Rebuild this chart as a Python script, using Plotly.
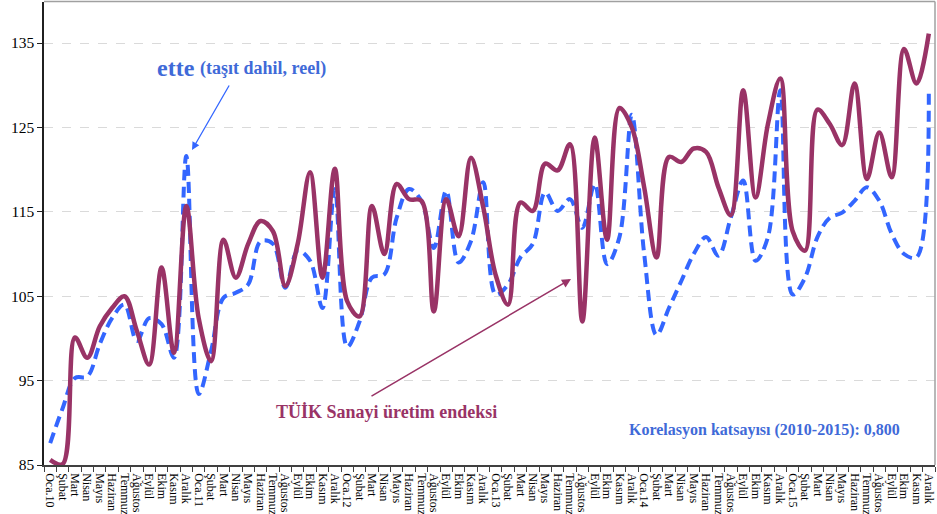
import plotly.graph_objects as go

months = ["Oca", "Şubat", "Mart", "Nisan", "Mayıs", "Haziran", "Temmuz",
          "Ağustos", "Eylül", "Ekim", "Kasım", "Aralık"]
years = ["10", "11", "12", "13", "14", "15"]
tick_labels = []
for y in years:
    for j, m in enumerate(months):
        tick_labels.append(f"Oca.{y}" if j == 0 else m)

tuik = [85.6, 85.1, 100.1, 97.7, 101.4, 103.6, 105.0, 100.9, 96.9, 108.4, 98.3, 115.7,
        102.4, 97.3, 111.7, 107.2, 111.2, 113.9, 112.7, 106.2, 111.2, 119.7, 107.2, 120.1,
        104.4, 102.6, 115.7, 110.0, 118.3, 116.5, 116.3, 103.2, 116.5, 112.1, 121.4, 115.5,
        107.5, 104.0, 116.1, 115.1, 120.7, 119.9, 123.0, 102.0, 123.8, 111.7, 127.3, 125.0,
        117.9, 109.6, 121.5, 120.9, 122.5, 122.1, 117.9, 114.6, 129.4, 116.7, 125.4, 130.8,
        112.7, 110.4, 127.1, 125.4, 122.9, 130.2, 118.9, 124.4, 119.1, 134.3, 130.2, 136.1]

ette = [87.6, 91.7, 95.3, 95.5, 99.3, 102.4, 104.0, 99.7, 102.4, 101.7, 97.7, 121.6,
        93.4, 98.5, 104.8, 105.4, 106.4, 111.5, 111.2, 106.0, 110.4, 109.2, 103.6, 117.7,
        99.0, 102.0, 107.2, 107.6, 114.3, 117.7, 116.3, 110.7, 117.5, 109.0, 111.5, 118.5,
        105.2, 106.4, 109.6, 111.2, 117.3, 115.1, 116.5, 113.1, 118.3, 108.8, 112.0, 126.5,
        110.0, 100.4, 103.6, 106.8, 110.0, 112.0, 109.8, 114.3, 118.7, 109.2, 112.0, 129.4,
        105.2, 107.2, 112.0, 114.3, 114.9, 116.3, 117.9, 116.3, 112.4, 110.0, 109.6, 129.4]

y_ticks = [85, 95, 105, 115, 125, 135]

x_idx = list(range(len(tick_labels)))

W, H = 937, 514
L, R, T, B = 44, 935, 2, 465

def px(xp):
    return (xp - L) / (R - L)

def py(yp):
    return (B - yp) / (B - T)

SERIF = "Liberation Serif, Times New Roman, serif"
MAROON = "#993366"
BLUE_LINE = "#3366FF"
BLUE_TEXT = "#3F6AD8"

fig = go.Figure()
fig.add_trace(go.Scatter(
    x=x_idx, y=ette, mode="lines", name="ette",
    line=dict(color=BLUE_LINE, width=4, dash="11px,6px", shape="spline", smoothing=1.0),
))
fig.add_trace(go.Scatter(
    x=x_idx, y=tuik, mode="lines", name="TÜİK",
    line=dict(color=MAROON, width=4.5, shape="spline", smoothing=1.0),
))

fig.update_layout(
    width=W, height=H,
    margin=dict(l=L, r=W - R, t=T, b=H - B, pad=0),
    paper_bgcolor="white", plot_bgcolor="white",
    showlegend=False,
    font=dict(family=SERIF, color="black"),
)

fig.update_xaxes(
    range=[-0.5, len(tick_labels) - 0.5],
    tickmode="array", tickvals=x_idx, ticktext=tick_labels,
    tickangle=90, tickfont=dict(family=SERIF, size=12, color="black"),
    ticks="", showgrid=False, zeroline=False,
    showline=True, linecolor="#404040", linewidth=1.5,
    minor=dict(tick0=-0.5, dtick=1, ticks="outside", ticklen=5,
               tickcolor="#404040", tickwidth=1, showgrid=False),
    automargin=False, ticklabelstandoff=4,
)
fig.update_yaxes(
    range=[85, 85 + (B - T) / 8.44],
    tickmode="array", tickvals=y_ticks,
    tickfont=dict(family=SERIF, size=15.5, color="black"),
    ticks="outside", ticklen=5, tickcolor="#202020",
    showgrid=True, gridcolor="#DADADA", griddash="dash", gridwidth=1,
    zeroline=False, showline=True, linecolor="#202020", linewidth=1.5,
    automargin=False,
)

# chart border (top / right)
fig.add_shape(type="line", xref="paper", yref="paper", x0=0, x1=1, y0=py(1.5), y1=py(1.5),
              line=dict(color="#A0A0A0", width=1.5))
fig.add_shape(type="line", xref="paper", yref="paper", x0=px(935), x1=px(935), y0=0, y1=py(1.5),
              line=dict(color="#A0A0A0", width=1.5))

ann = []
ann.append(dict(xref="paper", yref="paper", x=px(155), y=py(68), xanchor="left", yanchor="middle",
                text="<b>ette</b>", showarrow=False,
                font=dict(family=SERIF, size=24, color=BLUE_TEXT)))
ann.append(dict(xref="paper", yref="paper", x=px(198), y=py(69), xanchor="left", yanchor="middle",
                text="<b>(taşıt dahil, reel)</b>", showarrow=False,
                font=dict(family=SERIF, size=18, color=BLUE_TEXT)))
ann.append(dict(xref="paper", yref="paper", x=px(192), y=py(150), text="", showarrow=True,
                axref="pixel", ayref="pixel", ax=38, ay=-66,
                arrowhead=2, arrowsize=1.2, arrowwidth=1.3, arrowcolor=BLUE_LINE))
ann.append(dict(xref="paper", yref="paper", x=px(386), y=py(412), xanchor="center", yanchor="middle",
                text="<b>TÜİK Sanayi üretim endeksi</b>", showarrow=False,
                font=dict(family=SERIF, size=18, color=MAROON)))
ann.append(dict(xref="paper", yref="paper", x=px(571), y=py(279), text="", showarrow=True,
                axref="pixel", ayref="pixel", ax=-201, ay=118,
                arrowhead=2, arrowsize=1.2, arrowwidth=1.5, arrowcolor=MAROON))
ann.append(dict(xref="paper", yref="paper", x=px(764), y=py(430), xanchor="center", yanchor="middle",
                text="<b>Korelasyon katsayısı (2010-2015): 0,800</b>", showarrow=False,
                font=dict(family=SERIF, size=16, color=BLUE_TEXT)))
fig.update_layout(annotations=ann)

fig.write_html("out.html",
               config={"displayModeBar": False},
               post_script="document.body.style.margin='0';document.body.style.overflow='hidden';")
